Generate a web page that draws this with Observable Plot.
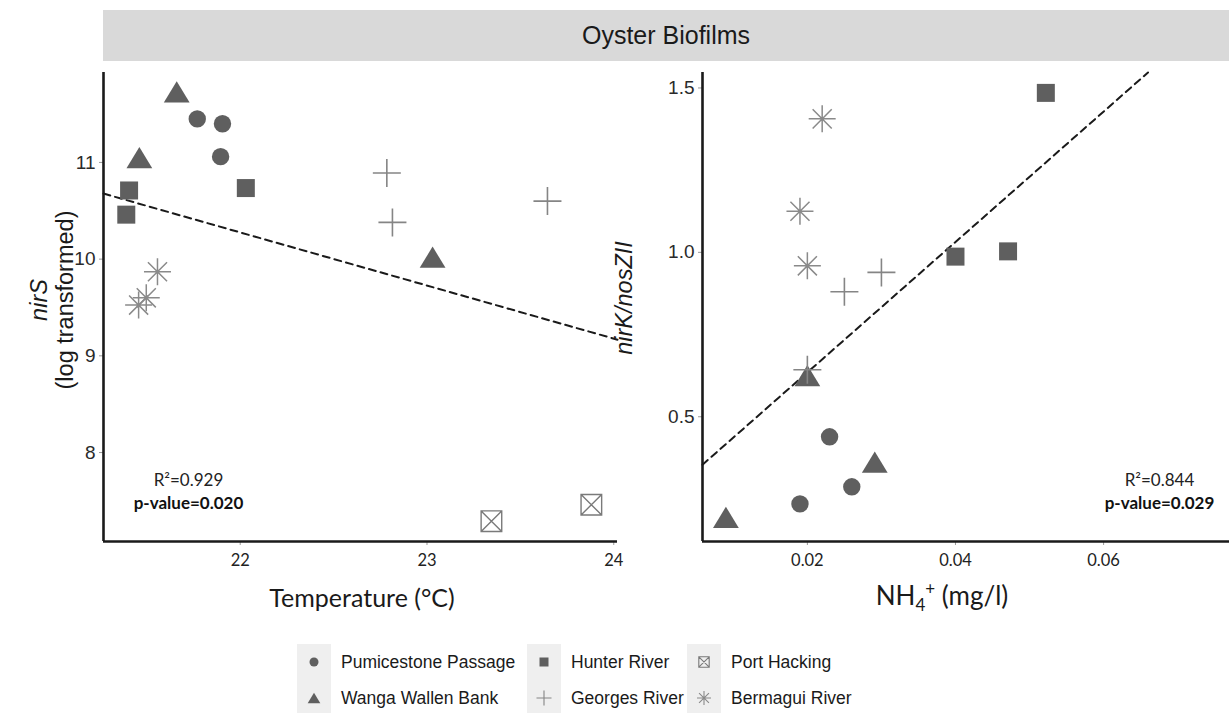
<!DOCTYPE html>
<html><head><meta charset="utf-8">
<script src="https://cdn.jsdelivr.net/npm/d3@7"></script>
<script src="https://cdn.jsdelivr.net/npm/@observablehq/plot@0.6"></script>
<style>
body{margin:0;background:#fff}
#root{position:relative;width:1229px;height:713px;overflow:hidden;font-family:"Liberation Sans",Arial,sans-serif;color:#1a1a1a;background:#fff}
.abs{position:absolute}
.ctr{transform:translate(-50%,-50%);white-space:nowrap}
</style></head><body><div id="root"></div>
<script>
// ---------- DATA ----------
const sites = ["Pumicestone Passage","Wanga Wallen Bank","Hunter River","Georges River","Port Hacking","Bermagui River"];

// Left panel: Temperature (°C) vs nirS (log transformed)
const tempSite = ["Pumicestone Passage","Pumicestone Passage","Pumicestone Passage",
  "Wanga Wallen Bank","Wanga Wallen Bank","Wanga Wallen Bank",
  "Hunter River","Hunter River","Hunter River",
  "Georges River","Georges River","Georges River",
  "Port Hacking","Port Hacking",
  "Bermagui River","Bermagui River","Bermagui River"];
const tempC = [21.77,21.905,21.895, 21.66,21.46,23.03, 21.405,21.39,22.03, 22.785,22.815,23.645, 23.345,23.88, 21.557,21.497,21.456];
const nirS  = [11.45,11.40,11.06, 11.73,11.05,10.02, 10.71,10.46,10.735, 10.89,10.38,10.60, 7.29,7.46, 9.87,9.60,9.525];

// Right panel: NH4+ (mg/l) vs nirK/nosZII
const nh4Site = ["Pumicestone Passage","Pumicestone Passage","Pumicestone Passage",
  "Wanga Wallen Bank","Wanga Wallen Bank","Wanga Wallen Bank",
  "Hunter River","Hunter River","Hunter River",
  "Georges River","Georges River","Georges River",
  "Bermagui River","Bermagui River","Bermagui River"];
const nh4 = [0.0230,0.0260,0.0190, 0.0200,0.0291,0.0090, 0.0400,0.0471,0.0522, 0.0250,0.0300,0.0200, 0.0220,0.0190,0.0200];
const nirKnosZ = [0.439,0.287,0.235, 0.625,0.362,0.194, 0.987,1.003,1.485, 0.880,0.939,0.643, 1.406,1.125,0.959];

// regression fits (intercept, slope)
const tempFit = [22.354, -0.549];
const nh4Fit = [0.2383, 19.83];

// axis domains and ticks
const tempDomain = [21.268, 24.02];
const nirSDomain = [7.08, 11.93];
const tempTicks = [22, 23, 24];
const nirSTicks = [8, 9, 10, 11];
const nh4Domain = [0.00584, 0.077];
const ratioDomain = [0.1206, 1.547];
const nh4Ticks = [0.02, 0.04, 0.06];
const ratioTicks = [0.5, 1.0, 1.5];

const statsR2 = ["0.929", "0.844"];
const statsP = ["0.020", "0.029"];

// ---------- STYLES ----------
function makeSymbol(kind, r) {
  switch (kind) {
    case "circle": return {draw(c){ c.moveTo(r,0); c.arc(0,0,r,0,2*Math.PI); c.closePath(); }};
    case "square": return {draw(c){ c.rect(-r,-r,2*r,2*r); }};
    case "triangle": return {draw(c){ const h=r*0.95; c.moveTo(0,-h); c.lineTo(r*1.15,h); c.lineTo(-r*1.15,h); c.closePath(); }};
    case "plus": return {draw(c){ c.moveTo(-r,0); c.lineTo(r,0); c.moveTo(0,-r); c.lineTo(0,r); }};
    case "asterisk": return {draw(c){ const d=r*Math.SQRT1_2; c.moveTo(-r,0); c.lineTo(r,0); c.moveTo(0,-r); c.lineTo(0,r); c.moveTo(-d,-d); c.lineTo(d,d); c.moveTo(-d,d); c.lineTo(d,-d); }};
    case "boxx": return {draw(c){ c.rect(-r,-r,2*r,2*r); c.moveTo(-r,-r); c.lineTo(r,r); c.moveTo(-r,r); c.lineTo(r,-r); }};
  }
}
const siteStyle = {
  "Pumicestone Passage": {shape:"circle", r:8.7, lr:4.5, fill:"#5f5f5f", stroke:"none"},
  "Wanga Wallen Bank":  {shape:"triangle", r:11.2, lr:5.5, fill:"#5f5f5f", stroke:"none"},
  "Hunter River":       {shape:"square", r:9, lr:4.5, fill:"#5f5f5f", stroke:"none"},
  "Georges River":      {shape:"plus", r:14, lr:7.5, fill:"none", stroke:"#858585", sw:1.6},
  "Port Hacking":       {shape:"boxx", r:10.3, lr:5.2, fill:"none", stroke:"#7a7a7a", sw:1.4},
  "Bermagui River":     {shape:"asterisk", r:13.5, lr:7, fill:"none", stroke:"#8a8a8a", sw:1.5}
};

const root = document.getElementById("root");
function add(html, css, cls) {
  const d = document.createElement("div");
  d.className = "abs " + (cls || "");
  d.innerHTML = html;
  Object.assign(d.style, css);
  root.appendChild(d);
  return d;
}

function dotMarks(rows) {
  return sites.filter(s => rows.some(r => r.site === s)).map(s => {
    const st = siteStyle[s];
    return Plot.dot(rows.filter(r => r.site === s), {
      x: "x", y: "y", symbol: makeSymbol(st.shape, st.r), r: st.r,
      fill: st.fill, stroke: st.stroke, strokeWidth: st.sw || 0
    });
  });
}

// clip the regression line to the panel's x and y domains
function fitSegment(fit, xDomain, yDomain) {
  const [a, b] = fit;
  let x0 = xDomain[0], x1 = xDomain[1];
  const xa = (yDomain[0] - a) / b, xb = (yDomain[1] - a) / b;
  x0 = Math.max(x0, Math.min(xa, xb)); x1 = Math.min(x1, Math.max(xa, xb));
  return [x0, x1].map(x => ({x, y: a + b * x}));
}

function panel({rows, fit, xDomain, yDomain, xTicks, yTicks, xFmt, yFmt, stat, width, marginLeft, marginRight, textDx, anchor}) {
  return Plot.plot({
    width, height: 600,
    marginTop: 72, marginBottom: 59, marginLeft, marginRight,
    x: {domain: xDomain},
    y: {domain: yDomain},
    style: {background: "none", overflow: "visible"},
    marks: [
      Plot.axisX(xTicks, {tickSize: 4, tickPadding: 9, fontSize: 16.5, fontFamily: "Lato", stroke: "#9a9a9a", fill: "#222", label: null, tickFormat: xFmt}),
      Plot.axisY(yTicks, {tickSize: 4, tickPadding: 4, fontSize: 19, fontFamily: "Liberation Sans", stroke: "#9a9a9a", fill: "#2a2a2a", label: null, tickFormat: yFmt}),
      Plot.line(fitSegment(fit, xDomain, yDomain), {x: "x", y: "y", stroke: "#1a1a1a", strokeWidth: 2, strokeDasharray: "7,5"}),
      ...dotMarks(rows),
      Plot.ruleX([xDomain[0]], {stroke: "#1a1a1a", strokeWidth: 2.6}),
      Plot.ruleY([yDomain[0]], {stroke: "#1a1a1a", strokeWidth: 2.6}),
      Plot.text([`R²=${stat[0]}`], {frameAnchor: anchor, dx: textDx, dy: -56, fontFamily: "Lato", fontSize: 17, fill: "#222", textAnchor: "middle"}),
      Plot.text([`p-value=${stat[1]}`], {frameAnchor: anchor, dx: textDx, dy: -33, fontFamily: "Lato", fontSize: 17, fontWeight: "bold", fill: "#111", textAnchor: "middle"})
    ]
  });
}

const leftRows = tempC.map((x, i) => ({site: tempSite[i], x, y: nirS[i]}));
const rightRows = nh4.map((x, i) => ({site: nh4Site[i], x, y: nirKnosZ[i]}));

const p1 = panel({rows: leftRows, fit: tempFit, xDomain: tempDomain, yDomain: nirSDomain, xTicks: tempTicks, yTicks: nirSTicks,
  xFmt: d3.format("d"), yFmt: d3.format("d"), stat: [statsR2[0], statsP[0]], width: 620, marginLeft: 103, marginRight: 3, textDx: 85, anchor: "bottom-left"});
const p2 = panel({rows: rightRows, fit: nh4Fit, xDomain: nh4Domain, yDomain: ratioDomain, xTicks: nh4Ticks, yTicks: ratioTicks,
  xFmt: d => String(d), yFmt: d3.format(".1f"), stat: [statsR2[1], statsP[1]], width: 609, marginLeft: 82, marginRight: 0, textDx: -70, anchor: "bottom-right"});

const w1 = add("", {left: "0px", top: "0px", width: "620px", height: "600px"}); w1.appendChild(p1);
const w2 = add("", {left: "620px", top: "0px", width: "609px", height: "600px"}); w2.appendChild(p2);

// strip
add("Oyster Biofilms", {left: "103px", top: "10px", width: "1126px", height: "51px", background: "#d9d9d9",
  fontSize: "25px", lineHeight: "51px", textAlign: "center", color: "#1a1a1a"});

// axis titles
add("Temperature (°C)", {left: "362px", top: "597px", fontFamily: "Lato", fontSize: "25px", color: "#1a1a1a"}, "ctr");
add("NH<sub style='font-size:17px;vertical-align:-6px'>4</sub><sup style='font-size:17px;vertical-align:10px'>+</sup> (mg/l)",
  {left: "942px", top: "597px", fontFamily: "Lato", fontSize: "26px", color: "#1a1a1a", lineHeight: "28px"}, "ctr");
const yt1 = add("<div><i>nirS</i></div><div>(log transformed)</div>",
  {left: "52px", top: "300px", fontSize: "23.5px", lineHeight: "26px", textAlign: "center", color: "#1a1a1a"});
yt1.style.transform = "translate(-50%,-50%) rotate(-90deg)"; yt1.style.whiteSpace = "nowrap";
const yt2 = add("<i>nirK/nosZII</i>", {left: "624px", top: "298px", fontSize: "23.5px", color: "#1a1a1a"});
yt2.style.transform = "translate(-50%,-50%) rotate(-90deg)"; yt2.style.whiteSpace = "nowrap";

// legend
const legendCols = [[sites[0], sites[1]], [sites[2], sites[3]], [sites[4], sites[5]]];
const colLeft = [297, 527, 687];
legendCols.forEach((col, ci) => {
  add("", {left: colLeft[ci] + "px", top: "644px", width: "34px", height: "72px", background: "#efefef"});
  col.forEach((s, ri) => {
    const st = siteStyle[s];
    const p = d3.path(); makeSymbol(st.shape, st.lr).draw(p);
    add(`<svg width="34" height="36" viewBox="-17 -18 34 36"><path d="${p}" fill="${st.fill}" stroke="${st.stroke}" stroke-width="${st.sw ? 1.1 : 0}"/></svg>`,
      {left: colLeft[ci] + "px", top: (644 + ri * 36) + "px", width: "34px", height: "36px", lineHeight: "0"});
    add(s, {left: (colLeft[ci] + 44) + "px", top: (644 + ri * 36) + "px", height: "36px", lineHeight: "36px", fontSize: "17.5px", color: "#1a1a1a", whiteSpace: "nowrap"});
  });
});
</script></body></html>
